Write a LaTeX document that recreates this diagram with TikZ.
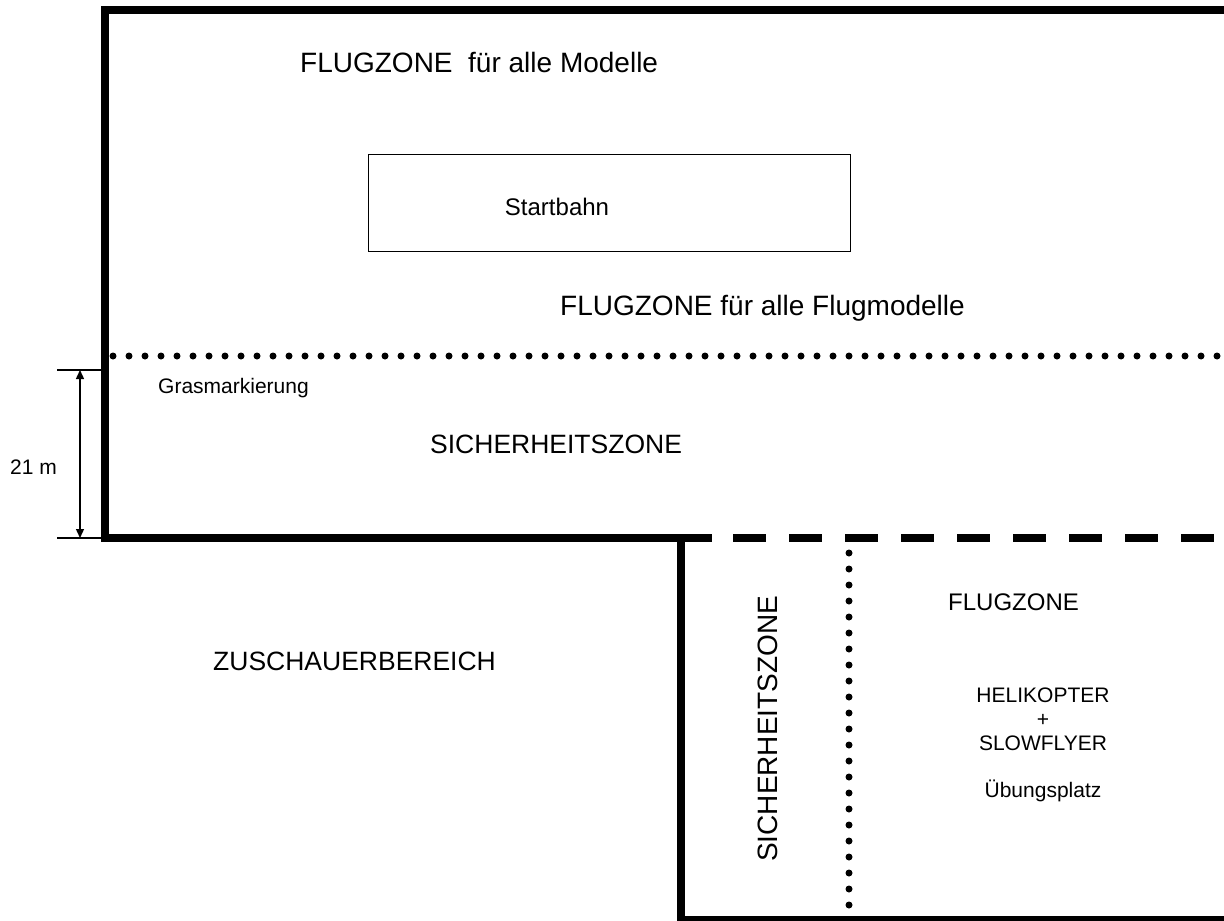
\documentclass[tikz,border=0pt]{standalone}
\usepackage{fontspec}
\setmainfont{Liberation Sans}
\usetikzlibrary{arrows.meta}
\tikzset{
  wall/.style={line width=8pt, line join=miter, line cap=butt},
  wallDashed/.style={line width=8pt, dash pattern=on 33pt off 23pt},
  dotline/.style={line width=7pt, line cap=round, dash pattern=on 0pt off 16pt},
  runway/.style={draw, line width=1.2pt},
  hugetext/.style={inner sep=0pt, font=\fontsize{28}{32}\selectfont},
  bigtext/.style={inner sep=0pt, font=\fontsize{26.5}{30}\selectfont},
  midtext/.style={inner sep=0pt, font=\fontsize{24}{28}\selectfont},
  smalltext/.style={inner sep=0pt, font=\fontsize{21}{24}\selectfont},
  dimline/.style={line width=1.2pt},
  dimarrow/.style={line width=1.4pt, {Triangle[length=9pt,width=8pt]}-{Triangle[length=9pt,width=8pt]}}
}
\begin{document}
\begin{tikzpicture}[x=1pt,y=-1pt]
\useasboundingbox (0,0) rectangle (1224,921);
\clip (0,0) rectangle (1224,921);
% outer boundary of the main flying field
\draw[wall] (1230,10) -- (105,10) -- (105,538) -- (712,538);
\draw[wallDashed] (733,538) -- (1230,538);
% helicopter area boundary
\draw[wall] (681,534) -- (681,920) -- (1230,920);
% dotted grass markings
\draw[dotline] (113,356) -- (1228,356);
\draw[dotline] (849,553) -- (849,925);
% runway
\node[runway, minimum width=482pt, minimum height=97pt, anchor=north west] (bahn) at (368,154) {};
\node[midtext, anchor=base] (startbahn) at (557,215) {Startbahn};
% texts
\node[hugetext, anchor=base west] (fz1) at (300,72) {FLUGZONE\ \ für alle Modelle};
\node[hugetext, anchor=base west] (fz2) at (560,315) {FLUGZONE für alle Flugmodelle};
\node[smalltext, anchor=base west] (gras) at (158,393) {Grasmarkierung};
\node[bigtext, anchor=base west] (sz1) at (430,453) {SICHERHEITSZONE};
\node[bigtext, anchor=base west] (zu) at (213,670) {ZUSCHAUERBEREICH};
\node[midtext, anchor=base west] (fz3) at (948,610) {FLUGZONE};
\node[hugetext, anchor=base west, rotate=90] (sz2) at (777,862) {SICHERHEITSZONE};
\node[smalltext, anchor=base] (heli) at (1043,702) {HELIKOPTER};
\node[smalltext, anchor=base] (plus) at (1043,726) {+};
\node[smalltext, anchor=base] (slow) at (1043,750) {SLOWFLYER};
\node[smalltext, anchor=base] (ueb) at (1043,797) {Übungsplatz};
% dimension
\coordinate (t1) at (57,370);
\coordinate (t1e) at (102,370);
\coordinate (t2) at (57,538);
\coordinate (t2e) at (102,538);
\coordinate (a1) at (80,370);
\coordinate (a2) at (80,538);
\draw[dimline] (t1) -- (t1e);
\draw[dimline] (t2) -- (t2e);
\draw[dimarrow] (a1) -- (a2);
\node[smalltext, anchor=base west] (dim) at (10,474) {21 m};
\end{tikzpicture}
\end{document}
